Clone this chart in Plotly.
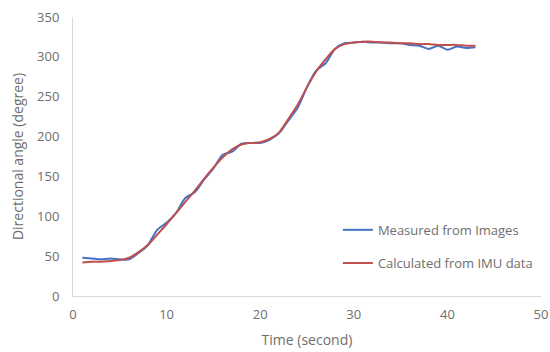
import plotly.graph_objects as go

time_s = list(range(1, 44))
measured_images = [48, 47, 46, 47, 46, 46, 54, 64, 83, 92, 104, 123, 130, 146, 160, 177, 181, 191, 192, 192,
                   196, 204, 220, 236, 262, 283, 292, 310, 317, 318, 319, 318, 318, 317, 317, 315, 314, 310,
                   314, 309, 313, 311, 312]
calculated_imu = [42, 43, 43, 44, 45, 48, 55, 64, 77, 90, 104, 118, 132, 147, 161, 174, 184, 190, 192, 193,
                  197, 205, 222, 240, 262, 282, 297, 310, 316, 318, 319, 319, 318, 318, 317, 317, 316, 316,
                  315, 315, 315, 314, 314]

x_ticks = [0, 10, 20, 30, 40, 50]
y_ticks = [0, 50, 100, 150, 200, 250, 300, 350]

FONT = "Open Sans"
GRAY = "#6E6E6E"

fig = go.Figure()
fig.add_trace(go.Scatter(x=time_s, y=measured_images, mode="lines", name="Measured from Images",
                         line=dict(color="#4472C4", width=2, shape="spline", smoothing=0.8),
                         legend="legend"))
fig.add_trace(go.Scatter(x=time_s, y=calculated_imu, mode="lines", name="Calculated from IMU data",
                         line=dict(color="#C0504D", width=2, shape="spline", smoothing=0.8),
                         legend="legend2"))

leg_common = dict(font=dict(family=FONT, size=13, color=GRAY), bgcolor="rgba(0,0,0,0)",
                  xanchor="left", yanchor="middle", itemwidth=30)

fig.update_layout(
    width=550, height=352,
    margin=dict(l=73, r=9, t=17, b=56),
    paper_bgcolor="white", plot_bgcolor="white",
    font=dict(family=FONT, size=13, color=GRAY),
    showlegend=True,
    legend=dict(x=0.566, y=0.237, **leg_common),
    legend2=dict(x=0.566, y=0.118, **leg_common),
    xaxis=dict(range=[0, 50], tickvals=x_ticks, showgrid=False, zeroline=False, automargin=False,
               showline=True, linecolor="#D9D9D9", linewidth=1, ticks="", ticklabelstandoff=6,
               ticklabeloverflow="allow",
               tickfont=dict(family=FONT, size=13, color=GRAY),
               title=dict(text="Time (second)", font=dict(family=FONT, size=14, color=GRAY), standoff=13)),
    yaxis=dict(range=[0, 350], tickvals=y_ticks, showgrid=False, zeroline=False, automargin=False,
               showline=True, linecolor="#D9D9D9", linewidth=1, ticks="", ticklabelstandoff=10,
               ticklabeloverflow="allow",
               tickfont=dict(family=FONT, size=13, color=GRAY),
               title=dict(text="Directional angle (degree)", font=dict(family=FONT, size=14, color=GRAY), standoff=10)),
)

fig.write_html("out.html", config={"displayModeBar": False},
               post_script="document.body.style.margin='0';document.body.style.overflow='hidden';")
